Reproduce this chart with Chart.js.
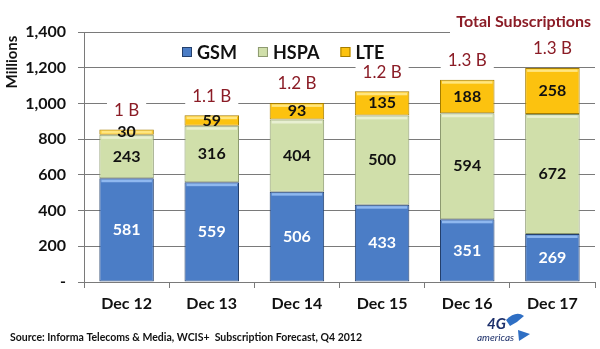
<!DOCTYPE html>
<html><head><meta charset="utf-8">
<script src="https://cdn.jsdelivr.net/npm/chart.js@4.4.1/dist/chart.umd.min.js"></script>
<style>html,body{margin:0;padding:0;background:#fff}canvas{display:block}</style>
</head><body>
<canvas id="c" width="600" height="349"></canvas>
<script>
const categories = ['Dec 12','Dec 13','Dec 14','Dec 15','Dec 16','Dec 17'];
const seriesNames = ['GSM','HSPA','LTE'];
const gsm = [581,559,506,433,351,269];
const hspa = [243,316,404,500,594,672];
const lte = [30,59,93,135,188,258];
const totalLabels = ['1 B','1.1 B','1.2 B','1.2 B','1.3 B','1.3 B'];
const yTickValues = [0,200,400,600,800,1000,1200,1400];
const chartTitle = 'Total Subscriptions';
const yTitle = 'Millions';
const sourceText = 'Source: Informa Telecoms & Media, WCIS+  Subscription Forecast, Q4 2012';

const FONT = 'Lato, "Open Sans", sans-serif';
const fills = ['#4b7dc6', '#d0dfaa', '#fcc20f'];
const highlights = ['#8fb8ef', '#e8f0d2', '#ffe680'];
const borders = ['#24406c', '#8d9a70', '#a57d00'];
const labelColors = ['#ffffff', '#111111', '#111111'];
const maroon = '#8b1c26';

const overlay = {
  id: 'overlay',
  afterDatasetsDraw(chart) {
    const ctx = chart.ctx;
    ctx.save();
    chart.data.datasets.forEach((ds, di) => {
      const meta = chart.getDatasetMeta(di);
      meta.data.forEach((bar, i) => {
        const top = Math.min(bar.y, bar.base);
        const left = bar.x - bar.width / 2;
        ctx.fillStyle = highlights[di];
        ctx.fillRect(left + 2, top + 1.5, bar.width - 4, 2.5);
        ctx.fillStyle = labelColors[di];
        ctx.font = 'bold 16px ' + FONT;
        ctx.textAlign = 'center';
        ctx.textBaseline = 'middle';
        ctx.fillText(String(ds.data[i]), bar.x, (bar.y + bar.base) / 2);
      });
    });
    const lastMeta = chart.getDatasetMeta(chart.data.datasets.length - 1);
    ctx.font = '17px ' + FONT;
    lastMeta.data.forEach((bar, i) => {
      const y = bar.y - 19;
      const w = ctx.measureText(totalLabels[i]).width + 14;
      ctx.fillStyle = '#fff';
      ctx.fillRect(bar.x - w / 2, y - 9, w, 18);
      ctx.fillStyle = maroon;
      ctx.textAlign = 'center';
      ctx.textBaseline = 'middle';
      ctx.fillText(totalLabels[i], bar.x, y);
    });
    ctx.font = 'bold 16px ' + FONT;
    ctx.fillStyle = '#fff';
    ctx.fillRect(450, 8, 150, 27);
    ctx.fillStyle = maroon;
    ctx.textAlign = 'right';
    ctx.textBaseline = 'middle';
    ctx.fillText(chartTitle, 591, 22);
    ctx.font = 'bold 18px ' + FONT;
    ctx.textAlign = 'left';
    let lx = 182;
    const ly = 52;
    seriesNames.forEach((n, k) => {
      ctx.fillStyle = fills[k];
      ctx.fillRect(lx, ly - 5, 10, 10);
      ctx.strokeStyle = borders[k];
      ctx.lineWidth = 1;
      ctx.strokeRect(lx + 0.5, ly - 4.5, 9, 9);
      ctx.fillStyle = '#111';
      ctx.fillText(n, lx + 15, ly + 1);
      lx += 15 + ctx.measureText(n).width + 21;
    });
    ctx.save();
    ctx.translate(12, 62);
    ctx.rotate(-Math.PI / 2);
    ctx.font = 'bold 15px ' + FONT;
    ctx.fillStyle = '#111';
    ctx.textAlign = 'center';
    ctx.textBaseline = 'middle';
    ctx.fillText(yTitle, 0, 0);
    ctx.restore();
    ctx.font = 'bold 10.5px ' + FONT;
    ctx.fillStyle = '#111';
    ctx.textAlign = 'left';
    ctx.textBaseline = 'middle';
    const sw = ctx.measureText(sourceText).width;
    ctx.save();
    ctx.translate(10, 338);
    ctx.scale(352 / sw, 1);
    ctx.fillText(sourceText, 0, 0);
    ctx.restore();
    // logo
    ctx.fillStyle = '#1c2f6a';
    ctx.font = 'italic bold 15px ' + FONT;
    ctx.fillText('4G', 487, 324);
    ctx.font = 'italic 10px ' + FONT;
    ctx.fillText('americas', 477, 338);
    ctx.fillStyle = '#2f6fc4';
    ctx.beginPath();
    ctx.moveTo(506, 320); ctx.quadraticCurveTo(516, 310, 524, 316); ctx.quadraticCurveTo(518, 322, 510, 326); ctx.closePath(); ctx.fill();
    ctx.beginPath();
    ctx.moveTo(518, 330); ctx.lineTo(530, 334); ctx.lineTo(519, 341); ctx.closePath(); ctx.fill();
    ctx.restore();
  }
};

new Chart(document.getElementById('c'), {
  type: 'bar',
  data: {
    labels: categories,
    datasets: [gsm, hspa, lte].map((d, k) => ({
      label: seriesNames[k],
      data: d,
      backgroundColor: fills[k],
      borderColor: borders[k],
      borderWidth: 1,
      borderSkipped: false,
      barPercentage: 0.64,
      categoryPercentage: 1
    }))
  },
  options: {
    responsive: false,
    animation: false,
    devicePixelRatio: 1,
    layout: { padding: { top: 32, right: 5, left: 0, bottom: 0 } },
    plugins: { legend: { display: false }, tooltip: { enabled: false }, title: { display: false } },
    scales: {
      x: {
        stacked: true,
        afterFit(s) { s.height = 67; },
        grid: { display: true, drawOnChartArea: false, drawTicks: true, tickLength: 6, color: '#7a7a7a', offset: true },
        border: { display: true, color: '#7a7a7a' },
        ticks: { color: '#111', font: { family: FONT, size: 16, weight: 'bold' }, padding: 6 }
      },
      y: {
        stacked: true,
        min: 0, max: 1400,
        afterFit(s) { s.width = 84; },
        afterBuildTicks(s) { s.ticks = yTickValues.map(v => ({ value: v })); },
        grid: { color: '#7a7a7a', tickLength: 6, drawTicks: true },
        border: { display: true, color: '#7a7a7a' },
        ticks: {
          color: '#111', padding: 12,
          font: { family: FONT, size: 16, weight: 'bold' },
          callback: v => v === 0 ? '-' : v.toLocaleString('en-US')
        }
      }
    }
  },
  plugins: [overlay]
});
</script>
</body></html>
